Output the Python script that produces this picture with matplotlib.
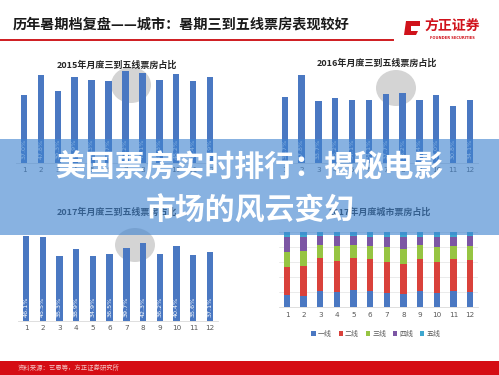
import matplotlib
matplotlib.use("Agg")
import matplotlib.pyplot as plt
from matplotlib.patches import Rectangle, Ellipse, Polygon
from matplotlib.lines import Line2D
import numpy as np

plt.rcParams['font.family'] = ['Noto Sans CJK SC', 'DejaVu Sans']

# ---------------- data ----------------
months = ['1', '2', '3', '4', '5', '6', '7', '8', '9', '10', '11', '12']
share_2015 = [37.0, 47.8, 39.3, 46.9, 45.3, 44.7, 50.2, 49.1, 45.3, 48.2, 44.4, 46.9]
share_2016 = [35.7, 47.8, 33.7, 35.2, 34.1, 34.1, 37.7, 38.2, 34.4, 37.0, 30.8, 34.1]
share_2017 = [46.1, 45.5, 35.3, 38.9, 34.9, 36.5, 39.7, 42.3, 36.2, 40.4, 35.6, 37.1]

tier_names = ['一线', '二线', '三线', '四线', '五线']
tier1 = [16.3, 15.4, 22.0, 19.8, 22.9, 22.0, 18.9, 17.6, 22.0, 18.5, 22.0, 20.7]
tier2 = [37.6, 39.1, 42.7, 41.3, 42.2, 41.5, 41.4, 40.1, 41.8, 41.1, 42.4, 42.2]
tier3 = [19.8, 19.8, 17.6, 19.8, 17.2, 17.6, 20.0, 19.8, 18.1, 19.8, 17.2, 17.6]
tier4 = [18.9, 18.1, 12.2, 13.0, 11.9, 12.3, 12.5, 15.0, 11.7, 13.5, 11.8, 13.2]
tier5 = [7.4, 7.6, 5.5, 6.1, 5.8, 6.6, 7.2, 7.5, 6.4, 7.1, 6.6, 6.3]

main_title = '历年暑期档复盘——城市：暑期三到五线票房表现较好'
banner_lines = ['美国票房实时排行：揭秘电影', '市场的风云变幻']
source_text = '资料来源：艺恩等，方正证券研究所'

# ---------------- layout helpers ----------------
W, H = 499, 375
fig = plt.figure(figsize=(W / 100, H / 100), dpi=100)
fig.patch.set_facecolor('white')


def rect(l, r, t, b):
    return [l / W, 1 - b / H, (r - l) / W, (b - t) / H]


def fx(x):
    return x / W


def fy(y):
    return 1 - y / H


BAR_BLUE = '#4a78c2'
tier_colors = ['#4a78c2', '#d9413b', '#96c442', '#7c56a4', '#3ea7cf']
TICK_COL = '#595959'
SCALE = 1.84  # px per percent

# ---------------- decorations behind ----------------
for (cx, cy, rw, rh) in [(131, 85, 20, 18), (396, 88, 20, 18), (135, 245, 20, 17)]:
    fig.add_artist(Ellipse((fx(cx), fy(cy)), 2 * rw / W, 2 * rh / H,
                           transform=fig.transFigure, facecolor='#d4d4d4',
                           edgecolor='none', zorder=-1))


def share_panel(l, r, base, values, title, title_xy):
    top = base - 55 * SCALE
    ax = fig.add_axes(rect(l, r, top, base))
    ax.set_facecolor('none')
    x = np.arange(1, 13)
    ax.bar(x, values, width=0.38, color=BAR_BLUE, zorder=2)
    for xi, v in zip(x, values):
        ax.text(xi, 2.0, f'{v:.1f}%', rotation=90, ha='center', va='bottom',
                color='white', fontsize=4.6, family=['DejaVu Sans'], zorder=3)
    ax.set_xlim(0.5, 12.5)
    ax.set_ylim(0, 55)
    ax.set_xticks(x)
    ax.set_xticklabels(months, fontsize=5.2, color=TICK_COL, family=['DejaVu Sans'])
    ax.set_yticks([])
    ax.tick_params(axis='x', length=0, pad=3)
    for s in ['top', 'right', 'left']:
        ax.spines[s].set_visible(False)
    ax.spines['bottom'].set_color('#d9d9d9')
    ax.spines['bottom'].set_linewidth(0.6)
    fig.text(fx(title_xy[0]), fy(title_xy[1]), title, ha='center', va='center',
             fontsize=6.5, fontweight='bold', color='#262626')
    return ax


share_panel(15.5, 218.5, 163, share_2015, '2015年月度三到五线票房占比', (117, 65))
share_panel(276.3, 478.4, 163, share_2016, '2016年月度三到五线票房占比', (377, 63))
share_panel(17.6, 218.4, 320.7, share_2017, '2017年月度三到五线票房占比', (117, 212))

# stacked panel
ax4 = fig.add_axes(rect(278.7, 478.3, 231.7, 307.3))
ax4.set_facecolor('none')
x = np.arange(1, 13)
bottom = np.zeros(12)
handles = []
for name, vals, col in zip(tier_names, [tier1, tier2, tier3, tier4, tier5], tier_colors):
    vals = np.array(vals)
    b = ax4.bar(x, vals, bottom=bottom, width=0.38, color=col, label=name, zorder=2)
    handles.append(b)
    bottom += vals
ax4.set_xlim(0.5, 12.5)
ax4.set_ylim(0, 100)
ax4.set_yticks([20, 40, 60, 80, 100])
ax4.set_yticklabels([])
ax4.tick_params(axis='y', length=0)
ax4.grid(axis='y', color='#e3e3e3', linewidth=0.5, zorder=0)
ax4.set_xticks(x)
ax4.set_xticklabels(months, fontsize=5.2, color=TICK_COL, family=['DejaVu Sans'])
ax4.tick_params(axis='x', length=0, pad=3.5)
for s in ['top', 'right', 'left']:
    ax4.spines[s].set_visible(False)
ax4.spines['bottom'].set_color('#d9d9d9')
ax4.spines['bottom'].set_linewidth(0.6)
ax4.legend(handles=handles, labels=tier_names, loc='center', ncol=5,
           bbox_to_anchor=(fx(376), fy(334)), bbox_transform=fig.transFigure,
           fontsize=5, frameon=False, handlelength=0.6, handleheight=0.6,
           handletextpad=0.3, columnspacing=1.0, labelcolor=TICK_COL)
fig.text(fx(380), fy(212), '2017年月度城市票房占比', ha='center', va='center',
         fontsize=6.5, fontweight='bold', color='#262626')

# ---------------- header ----------------
fig.text(fx(13), fy(25), main_title, ha='left', va='center', fontsize=10.2,
         fontweight='bold', color='#1a1a1a')
fig.add_artist(Line2D([0, fx(393)], [fy(39.5), fy(39.5)], transform=fig.transFigure,
                      color='#cf1b1f', linewidth=1.4))
fig.add_artist(Polygon([(fx(406), fy(21)), (fx(420), fy(21)), (fx(420), fy(26)),
                        (fx(411), fy(26)), (fx(411), fy(31)), (fx(418), fy(31)),
                        (fx(416), fy(35)), (fx(404), fy(35))],
                       closed=True, transform=fig.transFigure,
                       facecolor='#d0121b', edgecolor='none'))
fig.text(fx(452), fy(26), '方正证券', ha='center', va='center', fontsize=10,
         fontweight='bold', color='#d0121b')
fig.text(fx(452), fy(38), 'FOUNDER SECURITIES', ha='center', va='center',
         fontsize=2.6, fontweight='bold', color='#d0121b', family=['DejaVu Sans'])

# ---------------- banner ----------------
fig.add_artist(Rectangle((0, fy(235)), 1, (235 - 139) / H, transform=fig.transFigure,
                         facecolor='#3f83cf', alpha=0.62, edgecolor='none', zorder=10))
fig.text(fx(249), fy(168), banner_lines[0], ha='center', va='center', fontsize=21.5,
         fontweight='bold', color='white', zorder=11)
fig.text(fx(250), fy(211), banner_lines[1], ha='center', va='center', fontsize=21.5,
         fontweight='bold', color='white', zorder=11)

# ---------------- footer ----------------
fig.add_artist(Rectangle((0, 0), 1, 14 / H, transform=fig.transFigure,
                         facecolor='#d50d14', edgecolor='none', zorder=10))
fig.text(fx(18), fy(368), source_text, ha='left', va='center', fontsize=4.6,
         style='italic', color='#f4c4c4', zorder=11)

fig.savefig('out.png', dpi=100)
